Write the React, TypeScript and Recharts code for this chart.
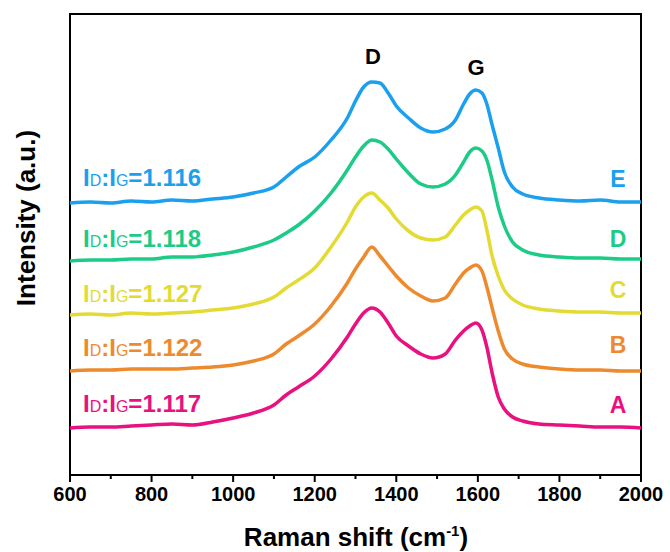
import React from 'react';
import { LineChart, Line, XAxis, YAxis, ReferenceArea } from 'recharts';

// Raman shift (cm-1) sample positions
const shifts = [
  600, 650, 700, 750, 800, 850, 900, 950, 1000, 1050,
  1100, 1130, 1160, 1200, 1240, 1280, 1300, 1320, 1340, 1360,
  1380, 1400, 1430, 1460, 1490, 1520, 1545, 1565, 1580, 1595,
  1610, 1622, 1635, 1650, 1665, 1685, 1710, 1750, 1800, 1850,
  1900, 1950, 2000,
];

// stacked spectra (offset intensity, a.u.)
const sampleA = [
  47, 48, 48, 49, 50, 51, 50, 53, 57, 62,
  70, 80, 88, 99, 116, 138, 151, 162, 167, 163,
  152, 139, 129, 121, 117, 121, 135, 144, 149, 152,
  145, 128, 102, 78, 66, 58, 54, 51, 50, 49,
  48, 48, 47,
];
const sampleB = [
  104, 105, 105, 106, 106, 106, 107, 108, 110, 114,
  121, 131, 139, 151, 169, 192, 206, 218, 228, 219,
  209, 199, 187, 179, 174, 177, 191, 202, 207, 210,
  204, 188, 167, 144, 126, 116, 111, 108, 106, 105,
  105, 104, 104,
];
const sampleC = [
  160, 161, 160, 162, 161, 162, 163, 165, 167, 171,
  178, 187, 195, 207, 228, 253, 268, 278, 282, 275,
  267, 256, 244, 237, 235, 238, 250, 260, 265, 268,
  264, 245, 219, 199, 185, 176, 170, 166, 164, 163,
  163, 162, 162,
];
const sampleD = [
  214, 215, 215, 216, 216, 218, 218, 220, 223, 228,
  235, 242, 250, 264, 282, 305, 318, 329, 335, 333,
  326, 316, 302, 291, 288, 291, 300, 313, 323, 327,
  324, 315, 295, 268, 249, 233, 225, 220, 218, 217,
  217, 216, 216,
];
const sampleE = [
  272, 273, 272, 274, 273, 275, 274, 276, 278, 282,
  288, 298, 308, 318, 335, 357, 374, 388, 393, 392,
  382, 369, 357, 347, 343, 346, 355, 371, 381, 385,
  382, 371, 350, 327, 303, 288, 281, 277, 275, 274,
  275, 273, 273,
];

const xTicks = [600, 700, 800, 900, 1000, 1100, 1200, 1300, 1400, 1500, 1600, 1700, 1800, 1900, 2000];

const names = ['A', 'B', 'C', 'D', 'E'];
const ratios = ['1.117', '1.122', '1.127', '1.118', '1.116'];
const colors = ['#E8117F', '#EE8A2E', '#E3DB33', '#1CCB86', '#1BA0EE'];

const data = shifts.map((s, i) => ({
  shift: s,
  A: sampleA[i],
  B: sampleB[i],
  C: sampleC[i],
  D: sampleD[i],
  E: sampleE[i],
}));

const font = 'Arial, "Liberation Sans", sans-serif';
const labelBase = [412, 356, 302, 247, 186];
const letterBase = [413, 353, 298, 247, 187];

const XTick = ({ x, y, payload }: any) => {
  const major = payload.value % 200 === 0;
  return (
    <g>
      <line x1={x} y1={y} x2={x} y2={y + (major ? 7 : 4)} stroke="#000" strokeWidth={2} />
      {major && (
        <text x={x} y={y + 26} textAnchor="middle" fontSize={20} fontWeight="bold" fontFamily={font} fill="#000">
          {payload.value}
        </text>
      )}
    </g>
  );
};

export default function App() {
  return (
    <div style={{ position: 'absolute', left: 0, top: 0, width: 670, height: 552, background: '#fff' }}>
      <LineChart width={670} height={552} data={data} margin={{ top: 14, right: 29, left: 70, bottom: 0 }}>
        <XAxis
          dataKey="shift"
          type="number"
          domain={[600, 2000]}
          ticks={xTicks}
          interval={0}
          height={77}
          axisLine={false}
          tickLine={false}
          tickSize={0}
          tickMargin={0}
          tick={<XTick />}
        />
        <YAxis hide domain={[0, 461]} type="number" />
        <ReferenceArea x1={600} x2={2000} y1={0} y2={461} fill="none" stroke="#000" strokeWidth={2} ifOverflow="extendDomain" />
        {names.map((n, i) => (
          <Line
            key={n}
            dataKey={n}
            type="monotone"
            stroke={colors[i]}
            strokeWidth={3.5}
            dot={false}
            isAnimationActive={false}
          />
        ))}
        {names.map((n, i) => (
          <text key={'l' + n} x={83} y={labelBase[i]} fontFamily={font} fill={colors[i]} fontSize={24} fontWeight="bold">
            I<tspan fontSize={16} fontWeight="normal">D</tspan>:I<tspan fontSize={16} fontWeight="normal">G</tspan>={ratios[i]}
          </text>
        ))}
        {names.map((n, i) => (
          <text key={'r' + n} x={618} y={letterBase[i]} textAnchor="middle" fontFamily={font} fill={colors[i]} fontSize={23} fontWeight="bold">
            {n}
          </text>
        ))}
        <text x={373} y={64} textAnchor="middle" fontFamily={font} fontSize={22} fontWeight="bold" fill="#000">D</text>
        <text x={476} y={75} textAnchor="middle" fontFamily={font} fontSize={22} fontWeight="bold" fill="#000">G</text>
        <text x={356} y={546} textAnchor="middle" fontFamily={font} fontSize={26} fontWeight="bold" fill="#000">
          Raman shift (cm<tspan fontSize={15} dy={-10}>-1</tspan><tspan dy={10}>)</tspan>
        </text>
        <text
          x={0}
          y={0}
          transform="translate(35, 218) rotate(-90)"
          textAnchor="middle"
          fontFamily={font}
          fontSize={26}
          fontWeight="bold"
          fill="#000"
        >
          Intensity (a.u.)
        </text>
      </LineChart>
    </div>
  );
}
